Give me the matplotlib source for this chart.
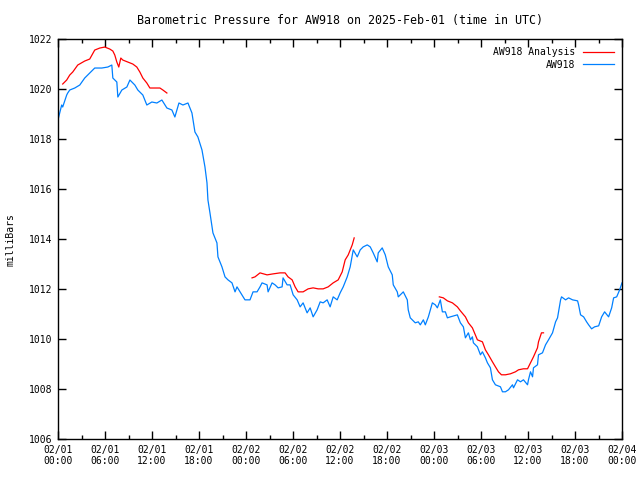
import numpy as np
import matplotlib
matplotlib.use('Agg')
import matplotlib.pyplot as plt
from matplotlib.ticker import MultipleLocator

# hours since 2025-02-01 00:00 UTC, pressure in mb
obs_hours = [0.0, 0.09, 0.47, 0.60, 1.11, 1.24, 1.50, 2.14, 2.78, 3.41, 4.05, 4.69, 5.59, 6.36, 6.87,
             7.00, 7.51, 7.64, 8.15, 8.79, 9.18, 9.81, 10.19, 10.83, 11.34, 11.98, 12.62, 13.26, 13.90,
             14.54, 14.92, 15.44, 15.95, 16.59, 17.10, 17.48, 17.86, 18.38, 18.76, 19.02, 19.14, 19.40,
             19.78, 20.29, 20.42, 20.93, 21.32, 21.70, 22.21, 22.60, 22.85, 23.24, 23.87, 24.51, 24.90,
             25.41, 25.79, 26.05, 26.69, 26.82, 27.33, 27.71, 28.10, 28.61, 28.73, 29.25, 29.63, 30.02,
             30.53, 30.91, 31.29, 31.80, 32.19, 32.57, 33.08, 33.47, 33.85, 34.36, 34.74, 35.13, 35.64,
             36.02, 36.41, 36.92, 37.30, 37.69, 38.20, 38.58, 38.96, 39.48, 39.86, 40.24, 40.75, 40.88,
             41.39, 41.78, 42.16, 42.67, 42.80, 43.31, 43.44, 43.95, 44.08, 44.59, 44.71, 44.97, 45.61,
             45.99, 46.25, 46.64, 46.89, 47.28, 47.53, 47.79, 48.17, 48.43, 48.81, 49.07, 49.45, 49.71,
             50.09, 50.98, 51.37, 51.75, 52.01, 52.39, 52.65, 52.90, 53.03, 53.54, 53.93, 54.18, 54.56,
             54.82, 55.20, 55.46, 55.84, 56.48, 56.74, 57.12, 57.51, 58.02, 58.15, 58.66, 59.04, 59.42,
             59.94, 60.06, 60.32, 60.58, 60.70, 61.21, 61.34, 61.85, 62.24, 62.62, 63.13, 63.52, 63.77,
             64.16, 64.28, 64.80, 65.18, 65.69, 66.33, 66.46, 66.71, 67.10, 67.48, 67.74, 68.12, 68.50,
             69.02, 69.40, 69.78, 70.29, 70.68, 70.93, 71.32, 71.70, 72.0]
obs_mb = [1018.77, 1018.89, 1019.37, 1019.29, 1019.77, 1019.85, 1019.97, 1020.05, 1020.17, 1020.45,
          1020.65, 1020.85, 1020.85, 1020.89, 1020.97, 1020.45, 1020.29, 1019.69, 1019.97, 1020.09,
          1020.37, 1020.17, 1019.97, 1019.77, 1019.37, 1019.49, 1019.45, 1019.57, 1019.25, 1019.17,
          1018.89, 1019.45, 1019.37, 1019.45, 1019.05, 1018.29, 1018.09, 1017.57, 1016.89, 1016.25,
          1015.57, 1015.05, 1014.25, 1013.85, 1013.29, 1012.89, 1012.49, 1012.37, 1012.25, 1011.89,
          1012.09, 1011.89, 1011.57, 1011.57, 1011.89, 1011.89, 1012.09, 1012.25, 1012.17, 1011.89,
          1012.25, 1012.17, 1012.05, 1012.09, 1012.45, 1012.17, 1012.17, 1011.77, 1011.57, 1011.29,
          1011.45, 1011.05, 1011.25, 1010.89, 1011.17, 1011.49, 1011.45, 1011.57, 1011.29, 1011.69,
          1011.57, 1011.85, 1012.09, 1012.49, 1012.89, 1013.57, 1013.29, 1013.57, 1013.69, 1013.77,
          1013.69, 1013.45, 1013.09, 1013.45, 1013.65, 1013.37, 1012.89, 1012.57, 1012.17, 1011.89,
          1011.69, 1011.85, 1011.89, 1011.57, 1011.17, 1010.85, 1010.65, 1010.69, 1010.57, 1010.77,
          1010.57, 1010.89, 1011.17, 1011.45, 1011.37, 1011.25, 1011.57, 1011.09, 1011.09, 1010.85,
          1010.89, 1010.97, 1010.65, 1010.49, 1010.05, 1010.25, 1009.97, 1010.09, 1009.85, 1009.69,
          1009.37, 1009.49, 1009.25, 1009.05, 1008.85, 1008.37, 1008.17, 1008.09, 1007.89, 1007.89,
          1007.97, 1008.17, 1008.05, 1008.37, 1008.29, 1008.37, 1008.17, 1008.37, 1008.69, 1008.49,
          1008.85, 1008.97, 1009.37, 1009.45, 1009.77, 1009.97, 1010.25, 1010.69, 1010.85, 1011.57,
          1011.69, 1011.57, 1011.65, 1011.57, 1011.53, 1011.37, 1010.97, 1010.89, 1010.69, 1010.57,
          1010.41, 1010.49, 1010.53, 1010.89, 1011.09, 1010.89, 1011.25, 1011.65, 1011.69, 1011.97,
          1012.25]

# analysis runs (three separate segments)
ana1_hours = [0.60, 1.11, 1.50, 1.88, 2.52, 3.41, 4.05, 4.69, 5.33, 5.97, 6.61, 7.00, 7.25, 7.51, 7.76,
              8.02, 8.27, 8.91, 9.55, 10.06, 10.45, 10.83, 11.34, 11.73, 12.37, 13.01, 13.39, 13.90]
ana1_mb = [1020.21, 1020.37, 1020.57, 1020.69, 1020.97, 1021.13, 1021.21, 1021.57, 1021.65, 1021.69,
           1021.61, 1021.53, 1021.37, 1021.09, 1020.89, 1021.25, 1021.17, 1021.09, 1021.01, 1020.89,
           1020.69, 1020.45, 1020.25, 1020.05, 1020.05, 1020.05, 1019.97, 1019.85]
ana2_hours = [24.77, 25.15, 25.79, 26.69, 27.46, 28.35, 28.99, 29.37, 29.89, 30.27, 30.65, 31.29, 31.93,
              32.57, 33.21, 33.85, 34.49, 35.13, 35.77, 36.28, 36.66, 37.05, 37.56, 37.81]
ana2_mb = [1012.45, 1012.49, 1012.65, 1012.57, 1012.61, 1012.65, 1012.65, 1012.49, 1012.37, 1012.09,
           1011.89, 1011.89, 1012.01, 1012.05, 1012.01, 1012.01, 1012.09, 1012.25, 1012.37, 1012.69,
           1013.17, 1013.37, 1013.77, 1014.05]
ana3_hours = [48.68, 49.19, 49.71, 50.35, 50.98, 51.37, 52.01, 52.39, 52.90, 53.54, 54.18, 54.56, 54.95,
              55.46, 55.84, 56.23, 56.61, 57.12, 57.76, 58.40, 58.79, 59.42, 59.94, 60.32, 60.70, 61.21,
              61.34, 61.72, 61.98]
ana3_mb = [1011.69, 1011.65, 1011.53, 1011.45, 1011.29, 1011.13, 1010.89, 1010.65, 1010.45, 1009.97,
           1009.89, 1009.57, 1009.37, 1009.09, 1008.89, 1008.69, 1008.57, 1008.57, 1008.61, 1008.69,
           1008.77, 1008.81, 1008.81, 1009.05, 1009.29, 1009.65, 1009.89, 1010.25, 1010.25]

tick_hours = list(range(0, 73, 6))
tick_labels = ['02/01\n00:00', '02/01\n06:00', '02/01\n12:00', '02/01\n18:00',
               '02/02\n00:00', '02/02\n06:00', '02/02\n12:00', '02/02\n18:00',
               '02/03\n00:00', '02/03\n06:00', '02/03\n12:00', '02/03\n18:00',
               '02/04\n00:00']

plt.rcParams['font.family'] = 'DejaVu Sans Mono'
plt.rcParams['font.size'] = 7

fig = plt.figure(figsize=(6.4, 4.8), dpi=100)
ax = fig.add_axes([58 / 640, 1 - 439 / 480, 564 / 640, 399.7 / 480])

red = '#ff0000'
blue = '#0080ff'
ax.plot(ana1_hours, ana1_mb, color=red, lw=0.9, label='AW918 Analysis')
ax.plot(ana2_hours, ana2_mb, color=red, lw=0.9)
ax.plot(ana3_hours, ana3_mb, color=red, lw=0.9)
ax.plot(obs_hours, obs_mb, color=blue, lw=0.9, label='AW918')

ax.set_xlim(0, 72)
ax.set_ylim(1006, 1022)
ax.set_xticks(tick_hours)
ax.set_xticklabels(tick_labels)
ax.xaxis.set_minor_locator(MultipleLocator(3))
ax.yaxis.set_major_locator(MultipleLocator(2))
ax.tick_params(which='both', direction='in', top=True, right=True, width=1, colors='black', pad=4)
ax.tick_params(which='major', length=6)
ax.tick_params(which='minor', length=3)
for s in ax.spines.values():
    s.set_linewidth(1)

ax.set_ylabel('milliBars', labelpad=10)
ax.set_title('Barometric Pressure for AW918 on 2025-Feb-01 (time in UTC)', pad=11)

ax.legend(loc='upper right', frameon=False, markerfirst=False, handlelength=3.2,
          borderaxespad=0.4, labelspacing=0.25, handletextpad=0.8)

fig.savefig('out.png', dpi=100)
